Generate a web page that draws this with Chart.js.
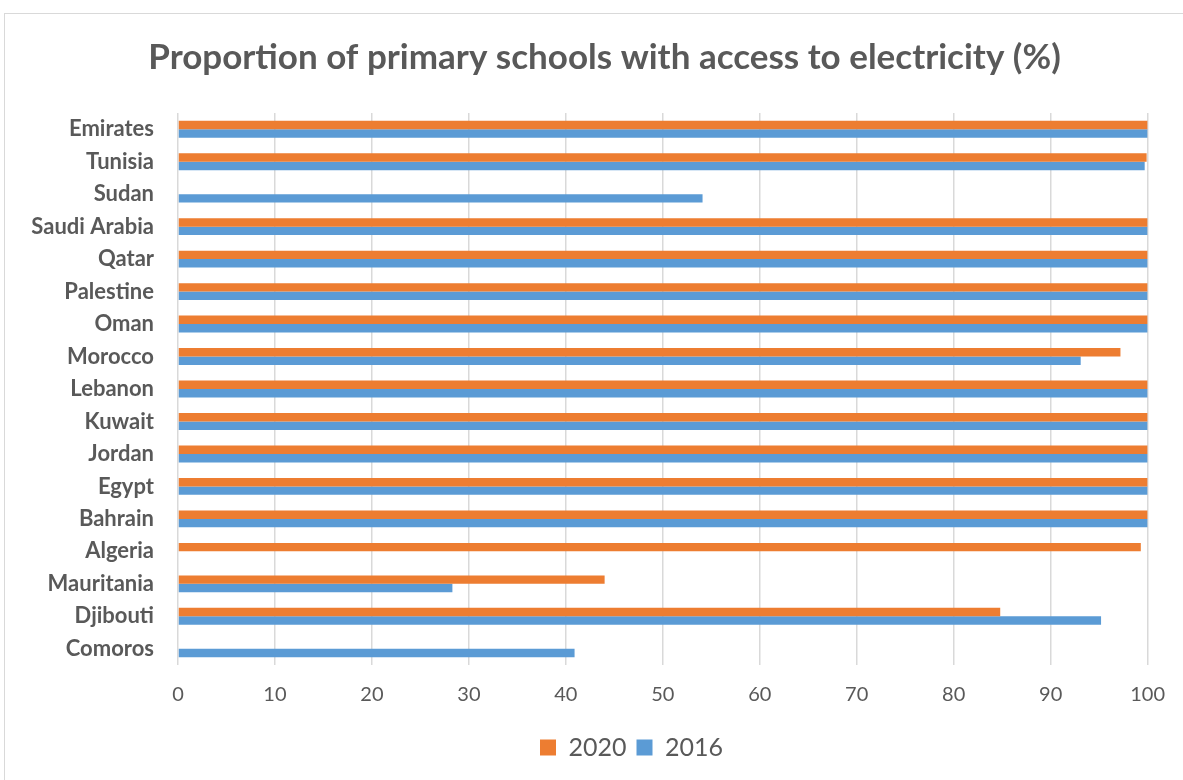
<!DOCTYPE html>
<html lang="en">
<head>
  <meta charset="UTF-8" />
  <title>Primary schools with electricity</title>
  <script src="https://cdn.jsdelivr.net/npm/chart.js"></script>
  <style>
    html, body {
      margin: 0;
      padding: 0;
      background: #ffffff;
      overflow: hidden;
    }
    .frame {
      position: absolute;
      left: 4px;
      top: 13px;
      width: 1200px;
      height: 800px;
      border: 1px solid #d9d9d9;
    }
    .frame canvas {
      display: block;
    }
  </style>
</head>
<body>
  <div class="frame">
    <canvas id="chart" width="1178" height="766"></canvas>
  </div>

  <script>
    const countries = ['Emirates', 'Tunisia', 'Sudan', 'Saudi Arabia', 'Qatar', 'Palestine', 'Oman',
      'Morocco', 'Lebanon', 'Kuwait', 'Jordan', 'Egypt', 'Bahrain', 'Algeria', 'Mauritania',
      'Djibouti', 'Comoros'];
    const values2020 = [100, 99.9, null, 100, 100, 100, 100, 97.2, 100, 100, 100, 100, 100, 99.3, 44.0, 84.8, null];
    const values2016 = [100, 99.7, 54.1, 100, 100, 100, 100, 93.1, 100, 100, 100, 100, 100, null, 28.3, 95.2, 40.9];
    const xTicks = [0, 10, 20, 30, 40, 50, 60, 70, 80, 90, 100];

    const font = "Lato, 'Open Sans', sans-serif";
    const grey = '#595959';

    // title and legend are centred on the whole frame in the original,
    // not on the space left of the right padding, so nudge them over
    const nudgeBoxes = {
      id: 'nudgeBoxes',
      afterLayout(chart) {
        chart.titleBlock.left += 27;
        chart.titleBlock.right += 27;
        chart.legend.left += 54;
        chart.legend.right += 54;
      }
    };

    const ctx = document.getElementById('chart').getContext('2d');
    new Chart(ctx, {
      type: 'bar',
      data: {
        labels: countries,
        datasets: [
          {
            label: '2020',
            data: values2020,
            backgroundColor: '#ed7d31',
            categoryPercentage: 0.52,
            barPercentage: 1
          },
          {
            label: '2016',
            data: values2016,
            backgroundColor: '#5b9bd5',
            categoryPercentage: 0.52,
            barPercentage: 1
          }
        ]
      },
      options: {
        indexAxis: 'y',
        responsive: false,
        animation: false,
        layout: { padding: { left: 0, right: 33, top: 0, bottom: 10 } },
        plugins: {
          title: {
            display: true,
            text: 'Proportion of primary schools with access to electricity (%)',
            color: grey,
            font: { family: font, size: 35, weight: 'bold' },
            padding: { top: 23, bottom: 34 }
          },
          legend: {
            position: 'bottom',
            labels: {
              color: grey,
              font: { family: font, size: 25 },
              boxWidth: 16,
              boxHeight: 16,
              padding: 10
            }
          },
          tooltip: { enabled: false }
        },
        scales: {
          x: {
            min: 0,
            max: 100,
            afterBuildTicks: (scale) => { scale.ticks = xTicks.map(v => ({ value: v })); },
            grid: { color: '#d9d9d9', lineWidth: 1.5, drawTicks: false },
            border: { display: false },
            ticks: {
              color: grey,
              font: { family: font, size: 20 },
              padding: 18
            }
          },
          y: {
            afterFit: (scale) => { scale.width = 173; },
            grid: { display: false },
            border: { display: false },
            ticks: {
              color: grey,
              font: { family: font, size: 22, weight: 'bold' },
              padding: 16
            }
          }
        }
      },
      plugins: [nudgeBoxes]
    });
  </script>
</body>
</html>
